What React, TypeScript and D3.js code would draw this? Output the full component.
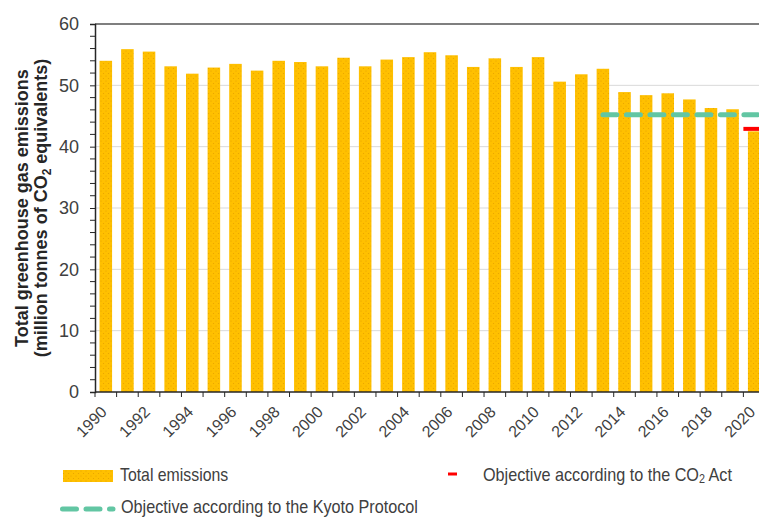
import React, { useRef, useEffect } from 'react';
import * as d3 from 'd3';

// emission totals, million tonnes CO2 eq
const years = [1990, 1991, 1992, 1993, 1994, 1995, 1996, 1997, 1998, 1999, 2000, 2001, 2002, 2003, 2004, 2005,
  2006, 2007, 2008, 2009, 2010, 2011, 2012, 2013, 2014, 2015, 2016, 2017, 2018, 2019, 2020];
const emissions = [54.0, 55.9, 55.5, 53.1, 51.9, 52.9, 53.5, 52.4, 54.0, 53.8, 53.1, 54.5, 53.1, 54.2, 54.6, 55.4,
  54.9, 53.0, 54.4, 53.0, 54.6, 50.6, 51.8, 52.7, 48.9, 48.4, 48.7, 47.7, 46.3, 46.1, 42.5];
const yearLabels = [1990, 1992, 1994, 1996, 1998, 2000, 2002, 2004, 2006, 2008, 2010, 2012, 2014, 2016, 2018, 2020];
const yTicks = [0, 10, 20, 30, 40, 50, 60];
const kyotoYears = [2013, 2020];
const kyotoValue = 45.2;
const co2ActYears = [2020];
const co2ActValue = 42.9;

const WIDTH = 759;
const HEIGHT = 517;
const textColor = '#404040';
const arial = 'Arial, "Liberation Sans", sans-serif';

const App = () => {
  const svgRef = useRef<SVGSVGElement>(null);

  useEffect(() => {
    const svg = d3.select(svgRef.current);
    svg.selectAll('*').remove();

    const defs = svg.append('defs');
    const pat = defs.append('pattern')
      .attr('id', 'dots')
      .attr('width', 5)
      .attr('height', 5)
      .attr('patternUnits', 'userSpaceOnUse');
    pat.append('rect').attr('width', 5).attr('height', 5).attr('fill', '#FFC000');
    pat.append('circle').attr('cx', 1).attr('cy', 1).attr('r', 0.6).attr('fill', '#E8A200');
    pat.append('circle').attr('cx', 3.5).attr('cy', 3.5).attr('r', 0.6).attr('fill', '#E8A200');

    const x = d3.scaleBand<number>()
      .domain(years)
      .range([95, 765])
      .paddingInner(0.42)
      .paddingOuter(0.21);
    const gap = x.step() - x.bandwidth();

    const y = d3.scaleLinear().domain([0, 60]).range([392, 24]);

    // gridlines
    svg.append('g')
      .selectAll('line')
      .data(yTicks.filter(d => d > 0 && d < 60))
      .enter()
      .append('line')
      .attr('x1', 95)
      .attr('x2', WIDTH)
      .attr('y1', d => y(d))
      .attr('y2', d => y(d))
      .attr('stroke', '#d9d9d9')
      .attr('stroke-width', 1);

    // top border
    svg.append('line')
      .attr('x1', 95).attr('x2', WIDTH)
      .attr('y1', y(60)).attr('y2', y(60))
      .attr('stroke', '#7f7f7f')
      .attr('stroke-width', 2);

    // bars
    svg.append('g')
      .selectAll('rect')
      .data(emissions)
      .enter()
      .append('rect')
      .attr('x', (d, i) => x(years[i])!)
      .attr('y', d => y(d))
      .attr('width', x.bandwidth())
      .attr('height', d => y(0) - y(d))
      .attr('fill', 'url(#dots)');

    // kyoto objective
    const kyotoLine = d3.line<number>()
      .x((d, i) => (i === 0 ? x(d)! + x.bandwidth() / 2 : x(d)! + x.bandwidth() + gap / 2))
      .y(() => y(kyotoValue));
    svg.append('path')
      .datum(kyotoYears)
      .attr('d', kyotoLine)
      .attr('fill', 'none')
      .attr('stroke', '#62C6A3')
      .attr('stroke-width', 5)
      .attr('stroke-linecap', 'round')
      .attr('stroke-dasharray', '14 9.5');

    // CO2 Act objective
    svg.append('g')
      .selectAll('line')
      .data(co2ActYears)
      .enter()
      .append('line')
      .attr('x1', d => x(d)! - gap / 2)
      .attr('x2', d => x(d)! + x.bandwidth() + gap / 2)
      .attr('y1', y(co2ActValue))
      .attr('y2', y(co2ActValue))
      .attr('stroke', '#FF0000')
      .attr('stroke-width', 4);

    // y axis
    const yAxis = svg.append('g')
      .attr('transform', 'translate(95,0)')
      .call(d3.axisLeft(y).tickValues(yTicks).tickSize(5).tickPadding(11).tickFormat(d3.format('d')));
    yAxis.select('.domain').attr('stroke', '#262626').attr('stroke-width', 1.5);
    yAxis.selectAll('.tick line').attr('stroke', '#262626');
    yAxis.selectAll('.tick text')
      .attr('fill', textColor)
      .attr('font-size', 18)
      .attr('font-family', arial);
    // minor ticks
    svg.append('g')
      .selectAll('line')
      .data(d3.range(0, 61, 2).filter(d => d % 10 !== 0))
      .enter()
      .append('line')
      .attr('x1', 90).attr('x2', 95)
      .attr('y1', d => y(d)).attr('y2', d => y(d))
      .attr('stroke', '#262626');

    // x axis
    svg.append('line')
      .attr('x1', 95).attr('x2', WIDTH)
      .attr('y1', y(0)).attr('y2', y(0))
      .attr('stroke', '#262626')
      .attr('stroke-width', 1.5);
    svg.append('g')
      .selectAll('line')
      .data(years)
      .enter()
      .append('line')
      .attr('x1', d => x(d)! - gap / 2)
      .attr('x2', d => x(d)! - gap / 2)
      .attr('y1', y(0))
      .attr('y2', y(0) + 5)
      .attr('stroke', '#262626');
    svg.append('g')
      .selectAll('text')
      .data(yearLabels)
      .enter()
      .append('text')
      .attr('transform', d => `translate(${x(d)! + x.bandwidth() / 2 + 2},${y(0) + 21}) rotate(-45)`)
      .attr('text-anchor', 'end')
      .attr('fill', textColor)
      .attr('font-size', 16)
      .attr('font-family', arial)
      .text(d => d);
  }, []);

  return (
    <svg width={WIDTH} height={HEIGHT} style={{ position: 'absolute', left: 0, top: 0, background: '#fff' }}>
      <g ref={svgRef} />
      <g fontFamily={arial} fontWeight="bold" fontSize={18} fill="#262626" textAnchor="middle">
        <text transform="translate(28,208) rotate(-90)">Total greenhouse gas emissions</text>
        <text transform="translate(47,208) rotate(-90)">
          (million tonnes of CO<tspan fontSize={12} dy={4}>2</tspan><tspan dy={-4}> equivalents)</tspan>
        </text>
      </g>
      <g fontFamily={arial} fontSize={18} fill={textColor}>
        <rect x={63} y={470} width={50} height={12} fill="url(#dots)" />
        <text transform="translate(120,481) scale(0.88,1)">Total emissions</text>
        <line x1={448} x2={457} y1={474} y2={474} stroke="#FF0000" strokeWidth={3} />
        <text transform="translate(483,481) scale(0.9,1)">
          Objective according to the CO<tspan fontSize={12} dy={2}>2</tspan><tspan dy={-2}> Act</tspan>
        </text>
        <line x1={62.5} x2={113} y1={509} y2={509} stroke="#62C6A3" strokeWidth={5} strokeLinecap="round" strokeDasharray="14 9.5" />
        <text transform="translate(121,513) scale(0.9,1)">Objective according to the Kyoto Protocol</text>
      </g>
    </svg>
  );
};

export default App;
